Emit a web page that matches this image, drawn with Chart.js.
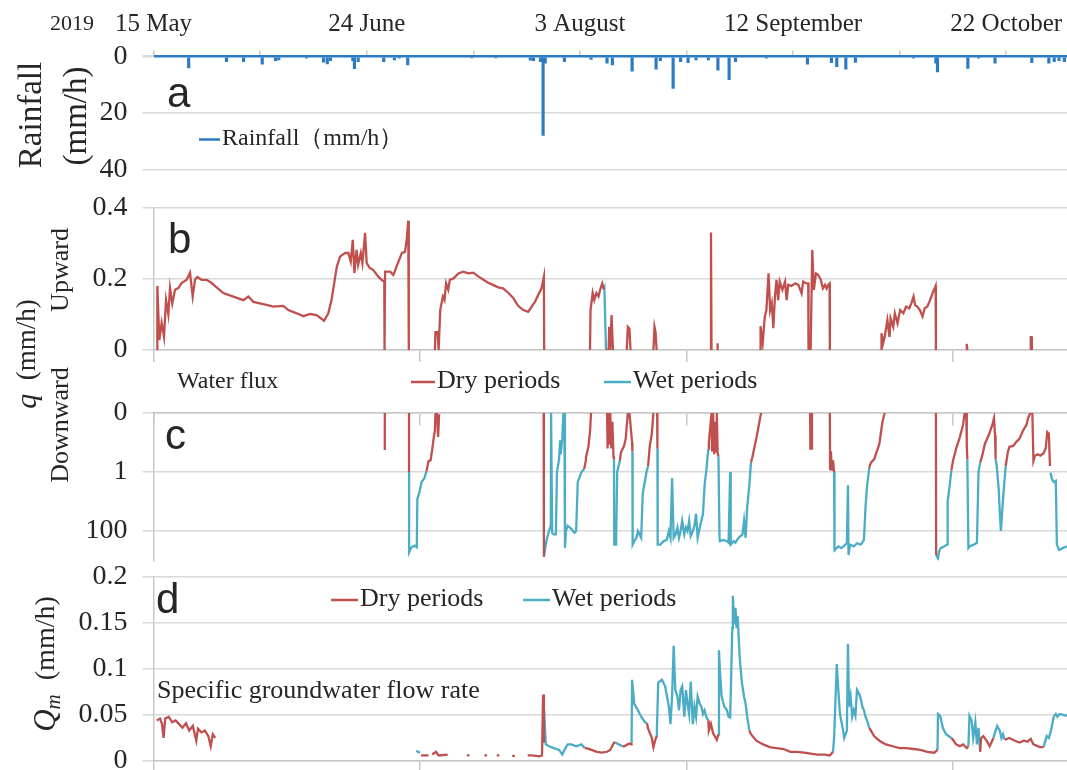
<!DOCTYPE html>
<html lang="en">
<head>
<meta charset="utf-8" />
<title>Rainfall, water flux and groundwater flow rate, 2019</title>
<style>
  body { margin: 0; background: #fff; }
  #wrap { position: relative; width: 1067px; height: 770px; overflow: hidden; background: #fff; }
  #wrap canvas { position: absolute; left: 0; top: 0; }
</style>
</head>
<body>
<div id="wrap">
  <canvas id="rain" width="1100" height="800"></canvas>
  <canvas id="up" width="1100" height="800"></canvas>
  <canvas id="down" width="1100" height="800"></canvas>
  <canvas id="qm" width="1100" height="800"></canvas>
</div>

<script src="https://cdn.jsdelivr.net/npm/chart.js"></script>
<script>
// x values are days counted from 15 May 2019
const X_MAX = 171.4;
const dateTickDays = [0, 20, 40, 60, 80, 100, 120, 140, 160];
const dateLabelDays = [0, 40, 80, 120, 160];
const dateLabels = ["15 May", "24 June", "3 August", "12 September", "22 October"];
const flowTickDays = [0, 50, 100, 150];

// hourly rainfall peaks (mm/h)
const rainDay = [6.6, 13.7, 16.9, 20.4, 22.9, 23.5, 28.7, 31.9, 32.6, 33.2, 37.4, 37.7, 38.4, 43.2, 45.2, 46.1, 47.7,
  59.7, 64.2, 70.7, 71.3, 72.6, 73.1, 73.5, 77.1, 82.1, 85.1, 86.1, 89.8, 94.3, 95.1, 97.5, 98.9, 100.3, 101.8,
  104.1, 105.9, 108.0, 109.2, 115.0, 122.7, 127.2, 128.2, 129.9, 131.7, 142.6, 146.8, 147.1, 152.8, 154.8, 157.9,
  164.8, 168.0, 169.0, 169.9, 170.9];
const rainMm = [4.0, 1.8, 1.8, 2.7, 1.5, 1.2, 0.6, 2.0, 2.6, 1.5, 1.5, 4.3, 1.8, 1.8, 1.2, 0.6, 3.0,
  0.5, 0.5, 1.3, 1.5, 1.8, 27.9, 2.4, 1.8, 1.0, 2.4, 3.0, 5.2, 4.5, 1.5, 11.3, 1.8, 2.2, 1.2,
  1.2, 4.8, 8.2, 1.8, 0.6, 2.7, 2.2, 3.6, 4.5, 2.1, 0.6, 2.4, 5.5, 4.2, 0.6, 2.4,
  2.2, 2.4, 1.8, 1.5, 1.8];

// upward water flux q (mm/h), segments of [day, value]
const upTicks = [0, 0.2, 0.4];
const upTickText = ["0", "0.2", "0.4"];
const upDry = [
  [[0.7, 0], [0.72, 0.18], [1.09, 0.028], [1.53, 0.076], [1.97, 0.037], [2.35, 0.14], [2.78, 0.10], [3.1, 0.174],
   [3.53, 0.13], [4.03, 0.169], [4.66, 0.174], [5.28, 0.188], [6.22, 0.197], [6.85, 0.217], [7.35, 0.15],
   [7.79, 0.197], [8.22, 0.205], [9.04, 0.197], [9.98, 0.197], [10.9, 0.188], [11.85, 0.176], [13.1, 0.16],
   [14.98, 0.15], [16.85, 0.14], [17.8, 0.15], [18.73, 0.135], [20.6, 0.129], [22.5, 0.122], [24.36, 0.124],
   [25.3, 0.112], [26.86, 0.103], [28.1, 0.095], [29.4, 0.101], [30.6, 0.098], [32.0, 0.082], [32.8, 0.103],
   [33.4, 0.14], [34.4, 0.234], [35.0, 0.262], [35.9, 0.272], [36.55, 0.273], [37.0, 0.248], [37.4, 0.309],
   [37.7, 0.216], [38.1, 0.281], [38.4, 0.239], [38.9, 0.272], [39.2, 0.244], [39.7, 0.329], [40.0, 0.244],
   [40.6, 0.23], [41.2, 0.225], [42.2, 0.206], [42.8, 0.197], [43.3, 0.192], [43.35, 0], [43.45, 0.22],
   [44.4, 0.22], [45.0, 0.211], [45.6, 0.234], [46.6, 0.272], [47.2, 0.276], [47.5, 0.309], [47.8, 0.363], [47.9, 0]],
  [[52.8, 0], [52.9, 0.05], [53.3, 0.05], [53.5, 0], [53.8, 0.112], [54.3, 0.15], [54.6, 0.14], [54.9, 0.187],
   [55.3, 0.169], [55.6, 0.197], [56.3, 0.201], [57.2, 0.215], [58.1, 0.22], [59.1, 0.215], [60.0, 0.217],
   [61.0, 0.206], [61.9, 0.197], [62.8, 0.189], [63.8, 0.182], [64.7, 0.176], [65.6, 0.173], [66.6, 0.16],
   [67.5, 0.146], [68.4, 0.124], [69.4, 0.112], [70.3, 0.107], [70.95, 0.122], [71.6, 0.136], [72.2, 0.155],
   [72.8, 0.173], [73.25, 0.206], [73.3, 0]],
  [[81.9, 0], [82.0, 0.112], [82.4, 0.16], [82.7, 0.14], [83.1, 0.16], [83.5, 0.15], [83.8, 0.169], [84.2, 0.187], [84.5, 0.17]],
  [[84.9, 0], [85.4, 0], [85.5, 0.065], [85.7, 0], [85.95, 0.098], [86.2, 0]],
  [[88.8, 0], [89.0, 0.065], [89.3, 0.06], [89.5, 0]],
  [[93.8, 0], [94.0, 0.065], [94.2, 0.05], [94.4, 0]],
  [[104.5, 0], [104.6, 0.33], [104.7, 0]],
  [[105.75, 0], [105.8, 0.019], [105.9, 0]],
  [[113.8, 0], [113.9, 0.067], [114.3, 0.019], [114.7, 0.094], [115.0, 0.112], [115.4, 0.215], [115.7, 0.112],
   [116.0, 0.131], [116.3, 0.061], [116.6, 0.15], [116.9, 0.197], [117.2, 0.14], [117.5, 0.192], [118.0, 0.169],
   [118.5, 0.192], [118.8, 0.14], [119.1, 0.183], [119.7, 0.18], [120.4, 0.187], [121.0, 0.183], [121.6, 0.159],
   [121.9, 0.192], [122.5, 0.187], [122.85, 0.187], [122.9, 0], [123.3, 0], [123.6, 0.281], [123.9, 0.169],
   [124.3, 0.215], [124.7, 0.211], [125.2, 0.197], [125.6, 0.173], [126.0, 0.183], [126.3, 0.173],
   [126.6, 0.183], [126.85, 0.187], [126.9, 0]],
  [[136.55, 0], [136.6, 0.047], [136.9, 0.019], [137.2, 0.037], [137.7, 0.084], [138.1, 0.037], [138.3, 0.089],
   [138.8, 0.065], [139.1, 0.103], [139.6, 0.075], [140.1, 0.112], [140.7, 0.103], [141.2, 0.122], [141.8, 0.117],
   [142.2, 0.131], [142.6, 0.15], [142.9, 0.126], [143.3, 0.122], [143.8, 0.112], [144.3, 0.094], [144.7, 0.117],
   [145.2, 0.122], [145.7, 0.14], [146.3, 0.164], [146.75, 0.18], [146.8, 0]],
  [[152.5, 0], [152.6, 0.017], [152.7, 0]],
  [[164.5, 0], [164.6, 0.036], [164.75, 0.036], [164.8, 0]]
];
const upWet = [
  [[84.5, 0.17], [84.6, 0.174], [84.9, 0]]
];

// downward water flux q (mm/h), log axis
const downTicks = [0.01, 1, 100];
const downTickText = ["0", "1", "100"];
const downDry = [
  [[43.4, 0.01], [43.4, 0.18]],
  [[47.95, 0.01], [47.95, 1.0]],
  [[51.2, 0.97], [51.6, 0.43], [52.0, 0.4], [52.3, 0.17], [52.6, 0.065], [52.8, 0.039], [52.9, 0.011],
   [53.2, 0.01], [53.4, 0.065], [53.6, 0.011]],
  [[73.2, 0.01], [73.25, 750]],
  [[80.8, 0.8], [81.1, 0.42], [81.2, 0.28], [81.6, 0.14], [81.9, 0.044], [82.1, 0.01]],
  [[85.1, 0.01], [85.2, 0.16], [85.3, 0.01], [85.5, 0.12], [85.7, 0.01], [85.9, 0.16], [86.1, 0.02], [86.3, 0.3], [86.4, 0.37]],
  [[87.5, 0.42], [87.7, 0.22], [88.3, 0.13], [88.6, 0.074], [89.0, 0.01]],
  [[89.3, 0.01], [89.8, 0.1], [89.85, 0.2]],
  [[92.8, 0.63], [93.1, 0.14], [93.5, 0.05], [93.8, 0.01]],
  [[94.5, 0.01], [94.55, 0.16]],
  [[104.1, 0.16], [104.2, 0.1], [104.4, 0.04], [104.7, 0.01], [104.8, 0.2], [105.0, 0.01], [105.2, 0.25],
   [105.4, 0.02], [105.6, 0.2], [105.7, 0.01], [105.85, 0.22], [106.0, 0.3]],
  [[112.1, 0.48], [112.4, 0.3], [112.7, 0.16], [113.1, 0.074], [113.4, 0.038], [113.7, 0.019], [114.0, 0.01]],
  [[123.2, 0.01], [123.25, 0.16], [123.5, 0.16], [123.55, 0.01]],
  [[126.9, 0.01], [126.95, 0.8], [127.1, 0.2], [127.3, 0.9], [127.5, 0.4], [127.7, 1.0]],
  [[134.3, 0.72], [134.6, 0.48], [135.2, 0.37], [135.9, 0.16], [136.2, 0.11], [136.5, 0.044], [136.8, 0.019], [137.2, 0.01]],
  [[146.8, 0.01], [146.85, 650]],
  [[149.7, 0.9], [150.0, 0.42], [150.6, 0.16], [151.3, 0.065], [151.9, 0.025], [152.2, 0.01]],
  [[152.5, 0.01], [152.6, 0.13], [152.7, 0.37]],
  [[155.1, 0.48], [155.5, 0.28], [156.0, 0.11], [156.7, 0.057], [157.4, 0.025], [157.7, 0.015], [157.9, 0.057], [158.0, 0.37]],
  [[159.9, 0.63], [160.3, 0.21], [160.6, 0.14], [161.3, 0.13], [161.9, 0.095], [162.5, 0.074], [163.2, 0.038],
   [163.8, 0.025], [164.1, 0.015], [164.5, 0.01], [164.9, 0.01], [165.1, 0.42], [165.4, 0.28], [165.9, 0.25],
   [166.4, 0.28], [167.0, 0.23], [167.4, 0.16], [167.7, 0.044], [168.0, 0.05], [168.2, 0.63]]
];
const downWet = [
  [[47.95, 1.0], [47.96, 535], [48.4, 357], [49.0, 314], [49.4, 357], [49.5, 8.3], [49.9, 4.8], [50.3, 2.2],
   [50.8, 1.66], [51.2, 0.97]],
  [[73.25, 750], [73.7, 222], [74.2, 100], [74.55, 66], [74.6, 0.01], [74.7, 0.01], [74.8, 115], [75.1, 131],
   [75.5, 131], [75.7, 1.0], [76.1, 0.37], [76.3, 0.085], [76.4, 0.25], [76.7, 0.074], [76.9, 0.01], [77.1, 0.01],
   [77.2, 380], [77.4, 100], [77.7, 66], [78.4, 85], [79.0, 115], [79.3, 100], [79.6, 2.2], [80.0, 1.4],
   [80.3, 1.0], [80.8, 0.8]],
  [[86.4, 0.37], [86.45, 290], [86.8, 290], [87.0, 1.0], [87.5, 0.42]],
  [[89.85, 0.2], [89.9, 290], [90.2, 222], [90.6, 170], [90.9, 100], [91.2, 131], [91.5, 170], [91.8, 5.3],
   [92.5, 1.0], [92.8, 0.63]],
  [[94.55, 0.16], [94.6, 290], [95.1, 290], [95.7, 222], [96.3, 200], [96.7, 100], [97.0, 170], [97.3, 1.6],
   [97.6, 170], [97.95, 131], [98.3, 76], [98.6, 170], [98.9, 100], [99.2, 45], [99.6, 131], [99.9, 76],
   [100.2, 100], [100.5, 45], [100.8, 150], [101.2, 100], [101.5, 66], [101.8, 26], [102.1, 170], [102.5, 76],
   [102.8, 45], [103.1, 26], [103.4, 2.8], [103.7, 1.0], [104.1, 0.16]],
  [[106.0, 0.3], [106.2, 170], [106.3, 222], [106.9, 200], [107.6, 222], [107.9, 250], [108.2, 1.0], [108.3, 290],
   [108.9, 222], [109.2, 250], [109.5, 200], [109.8, 170], [110.5, 131], [110.8, 45], [111.1, 170], [111.4, 15],
   [111.8, 2.8], [112.1, 0.48]],
  [[127.7, 1.0], [127.75, 500], [127.8, 440], [128.5, 330], [129.1, 380], [129.8, 290], [130.1, 260], [130.3, 2.8],
   [130.4, 650], [130.7, 290], [131.4, 330], [132.0, 260], [132.7, 290], [133.3, 200], [133.6, 15], [133.9, 2.8],
   [134.3, 0.72]],
  [[146.85, 650], [147.2, 850], [147.4, 500], [147.7, 380], [148.4, 330], [148.9, 290], [149.0, 10], [149.4, 2.8], [149.7, 0.9]],
  [[152.7, 0.37], [152.9, 380], [153.2, 330], [153.9, 290], [154.5, 250], [154.8, 1.0], [155.1, 0.48]],
  [[158.0, 0.37], [158.2, 0.6], [158.6, 4], [158.8, 26], [159.0, 100], [159.3, 15], [159.6, 2.8], [159.9, 0.63]],
  [[168.3, 1.05], [168.6, 1.8], [168.97, 2.2], [169.3, 2.0], [169.5, 290], [169.9, 440], [170.6, 380], [171.4, 330]]
];

// specific groundwater flow rate Qm (mm/h)
const qmTicks = [0, 0.05, 0.1, 0.15, 0.2];
const qmTickText = ["0", "0.05", "0.1", "0.15", "0.2"];
const qmDry = [
  [[0.6, 0.044], [1.24, 0.046], [1.6, 0.04], [1.89, 0.025], [2.2, 0.046], [2.86, 0.048], [3.5, 0.042], [4.15, 0.044],
   [4.8, 0.040], [5.44, 0.036], [6.09, 0.041], [6.7, 0.033], [7.38, 0.038], [8.03, 0.022], [8.35, 0.035],
   [9.0, 0.031], [9.64, 0.033], [10.29, 0.027], [10.74, 0.016], [11.13, 0.029], [11.58, 0.025]],
  [[50.2, 0.006], [51.6, 0.006]],
  [[52.3, 0.007], [53.0, 0.01], [53.5, 0.006], [55.2, 0.007]],
  [[58.8, 0.006], [59.3, 0.006]],
  [[62.1, 0.006], [62.6, 0.006]],
  [[64.4, 0.006], [64.9, 0.006]],
  [[67.3, 0.006], [67.8, 0.005]],
  [[70.2, 0.006], [71.0, 0.006], [72.4, 0.005], [72.9, 0.006], [73.1, 0.072], [73.25, 0.02]],
  [[80.9, 0.014], [81.2, 0.014], [82.2, 0.012], [83.2, 0.010], [84.1, 0.009], [85.1, 0.010], [85.7, 0.012], [86.4, 0.02], [86.7, 0.02]],
  [[88.0, 0.016], [88.3, 0.016], [88.96, 0.018], [89.4, 0.019], [89.6, 0.018], [89.7, 0.02]],
  [[92.6, 0.041], [92.8, 0.035], [93.5, 0.025], [93.8, 0.015], [94.1, 0.022], [94.4, 0.027]],
  [[104.1, 0.044], [104.2, 0.033], [104.6, 0.04], [105.0, 0.03], [105.7, 0.023], [106.0, 0.029]],
  [[111.8, 0.033], [112.1, 0.029], [113.1, 0.022], [114.4, 0.018], [115.6, 0.015], [116.9, 0.014], [118.2, 0.013],
   [119.5, 0.010], [120.8, 0.010], [122.1, 0.009], [123.3, 0.008], [124.6, 0.007], [125.9, 0.007], [126.9, 0.006], [127.5, 0.010]],
  [[134.3, 0.036], [134.6, 0.033], [135.2, 0.027], [136.2, 0.022], [137.4, 0.018], [138.7, 0.016], [140.0, 0.014],
   [141.3, 0.014], [142.6, 0.013], [143.9, 0.012], [145.2, 0.010], [146.5, 0.009], [147.1, 0.012]],
  [[149.7, 0.025], [150.0, 0.023], [150.6, 0.018], [151.3, 0.016], [151.9, 0.018], [152.6, 0.014], [152.9, 0.016]],
  [[155.1, 0.010], [155.3, 0.025], [155.7, 0.027], [156.3, 0.022], [156.9, 0.016], [157.6, 0.025]],
  [[159.7, 0.023], [160.6, 0.025], [161.6, 0.022], [162.5, 0.020], [163.3, 0.022], [164.0, 0.021], [164.6, 0.024],
   [165.1, 0.018], [166.3, 0.015], [167.0, 0.015]]
];
const qmWet = [
  [[49.3, 0.011], [50.0, 0.009]],
  [[73.25, 0.02], [73.3, 0.055], [73.6, 0.018], [74.2, 0.016], [75.1, 0.014], [76.1, 0.012], [76.7, 0.007],
   [77.1, 0.012], [77.7, 0.018], [78.4, 0.018], [79.3, 0.016], [80.3, 0.018], [80.9, 0.014]],
  [[86.7, 0.02], [87.3, 0.018], [88.0, 0.016]],
  [[89.7, 0.02], [89.8, 0.088], [90.2, 0.062], [90.9, 0.055], [91.5, 0.048], [92.2, 0.042], [92.6, 0.041]],
  [[94.4, 0.027], [94.45, 0.033], [94.7, 0.085], [95.4, 0.088], [96.0, 0.081], [96.7, 0.059], [97.0, 0.040],
   [97.3, 0.07], [97.6, 0.125], [97.9, 0.077], [98.3, 0.07], [98.6, 0.055], [98.9, 0.077], [99.2, 0.081],
   [99.6, 0.048], [99.9, 0.077], [100.2, 0.062], [100.5, 0.051], [100.8, 0.086], [101.2, 0.040], [101.5, 0.059],
   [101.8, 0.048], [102.1, 0.07], [102.5, 0.062], [102.8, 0.059], [103.1, 0.051], [103.4, 0.055], [103.7, 0.048], [104.1, 0.044]],
  [[106.0, 0.029], [106.1, 0.12], [106.3, 0.096], [106.6, 0.07], [107.1, 0.059], [107.6, 0.055], [107.9, 0.048],
   [108.2, 0.047], [108.6, 0.144], [108.7, 0.179], [109.0, 0.148], [109.2, 0.166], [109.4, 0.144], [109.6, 0.157],
   [110.0, 0.111], [110.4, 0.085], [110.8, 0.07], [111.1, 0.062], [111.4, 0.048], [111.8, 0.033]],
  [[127.5, 0.010], [127.7, 0.025], [128.2, 0.105], [128.5, 0.077], [128.8, 0.051], [129.3, 0.036], [129.6, 0.025],
   [130.1, 0.033], [130.3, 0.127], [130.5, 0.059], [130.8, 0.07], [131.1, 0.048], [131.4, 0.055], [131.7, 0.049],
   [132.0, 0.077], [132.3, 0.074], [132.6, 0.07], [133.0, 0.059], [133.3, 0.055], [133.6, 0.048], [134.0, 0.042], [134.3, 0.036]],
  [[147.1, 0.012], [147.2, 0.051], [147.6, 0.049], [148.1, 0.036], [148.7, 0.029], [149.7, 0.025]],
  [[152.9, 0.016], [153.1, 0.049], [153.5, 0.044], [153.8, 0.025], [154.2, 0.042], [154.5, 0.018], [154.8, 0.036], [155.1, 0.010]],
  [[157.6, 0.025], [158.0, 0.033], [158.3, 0.038], [158.8, 0.033], [159.1, 0.025], [159.4, 0.029], [159.7, 0.023]],
  [[167.0, 0.015], [167.6, 0.027], [168.0, 0.025], [168.4, 0.033], [168.9, 0.048], [169.3, 0.051], [169.6, 0.048],
   [170.0, 0.051], [171.4, 0.049]]
];

const SERIF = "'Liberation Serif', 'Times New Roman', serif";
const SANS = "'Liberation Sans', Arial, sans-serif";
const INK = "#262626";
const RAIN = "#2a7bc3";
const DRY = "#c0504d";
const WET = "#4bacc6";
const GRID = "#d9d9d9";
const AXIS = "#c8c8c8";
const LEFT = 153.5;   // width of the y-axis band, same for every panel
const TICK_SIZE = 28;

Chart.defaults.font.family = SERIF;
Chart.defaults.color = INK;

// free text, rotated titles and legend keys drawn on top of a panel
function notes(items) {
  return {
    id: "notes",
    afterDraw(chart) {
      const ctx = chart.ctx;
      for (const it of items) {
        ctx.save();
        if (it.key) {
          ctx.strokeStyle = it.key;
          ctx.lineWidth = 2.5;
          ctx.beginPath();
          ctx.moveTo(it.x, it.y);
          ctx.lineTo(it.x2, it.y);
          ctx.stroke();
        } else {
          ctx.translate(it.x, it.y);
          if (it.up) ctx.rotate(-Math.PI / 2);
          ctx.fillStyle = INK;
          ctx.textAlign = "left";
          ctx.textBaseline = it.base || "middle";
          const parts = it.parts || [{ text: it.text, font: it.font }];
          let total = 0;
          parts.forEach(p => { ctx.font = p.font; total += ctx.measureText(p.text).width; });
          let cx = it.align === "center" ? -total / 2 : 0;
          parts.forEach(p => {
            ctx.font = p.font;
            ctx.fillText(p.text, cx, p.shift || 0);
            cx += ctx.measureText(p.text).width;
          });
        }
        ctx.restore();
      }
    }
  };
}

function points(segs) {
  const out = [];
  segs.forEach(s => {
    s.forEach(p => out.push({ x: p[0], y: p[1] }));
    out.push({ x: s[s.length - 1][0], y: null });
  });
  return out;
}

function flowLine(segs, color) {
  return { type: "line", data: points(segs), borderColor: color, borderWidth: 2.3,
           pointRadius: 0, spanGaps: false, tension: 0 };
}

function tickLabels(vals, text) {
  return v => { const i = vals.indexOf(v); return i < 0 ? "" : text[i]; };
}

function yAxis(extra) {
  return Object.assign({
    afterFit: s => { s.width = LEFT; },
    grid: { color: GRID, lineWidth: 1.5, tickLength: 11 },
    border: { color: AXIS, width: 1.5 },
    ticks: { padding: 15, font: { size: TICK_SIZE }, color: INK, autoSkip: false }
  }, extra);
}

function flowX(extra) {
  return Object.assign({
    type: "linear", min: 0, max: X_MAX, offset: false,
    afterBuildTicks: s => { s.ticks = flowTickDays.map(v => ({ value: v })); },
    ticks: { display: false },
    grid: { drawOnChartArea: false, tickLength: 12, color: AXIS, lineWidth: 1.5 },
    border: { color: AXIS, width: 1.5 }
  }, extra);
}

function panel(id, datasets, scales, padding, items) {
  return new Chart(document.getElementById(id), {
    type: "line",
    data: { datasets },
    options: {
      responsive: false,
      animation: false,
      devicePixelRatio: 1,
      layout: { padding },
      plugins: { legend: { display: false }, tooltip: { enabled: false } },
      scales
    },
    plugins: [notes(items)]
  });
}

const f = (size, style) => (style ? style + " " : "") + size + "px " + SERIF;

// a: rainfall
panel("rain",
  [{
    type: "bar",
    data: rainDay.map((d, i) => ({ x: d, y: rainMm[i] })),
    backgroundColor: RAIN,
    barThickness: 2.5,
    borderWidth: 0
  }],
  {
    x: {
      type: "linear", position: "top", min: 0, max: X_MAX, offset: false,
      afterBuildTicks: s => { s.ticks = dateTickDays.map(v => ({ value: v })); },
      afterFit: s => { s.height = 56.5; },
      ticks: { autoSkip: false, maxRotation: 0, padding: 11, font: { size: 25 }, color: INK,
               callback: tickLabels(dateLabelDays, dateLabels) },
      grid: { drawOnChartArea: false, tickLength: 6, color: AXIS, lineWidth: 1.5, offset: false },
      border: { display: false }
    },
    y: yAxis({
      reverse: true, min: 0, max: 40,
      afterBuildTicks: s => { s.ticks = [0, 20, 40].map(v => ({ value: v })); },
      grid: {
        color: c => (c.tick && c.tick.value === 0 ? RAIN : GRID),
        lineWidth: c => (c.tick && c.tick.value === 0 ? 2.5 : 1.5),
        tickColor: GRID, tickLength: 11
      },
      border: { display: false }
    })
  },
  { top: 0, bottom: 630.5, left: 0, right: 33 },
  [
    { text: "2019", x: 72, y: 24, font: f(22), align: "center" },
    { text: "Rainfall", x: 32, y: 115, up: true, font: f(33), align: "center" },
    { text: "(mm/h)", x: 77, y: 116, up: true, font: f(33), align: "center" },
    { text: "a", x: 167, y: 107, base: "alphabetic", font: "42px " + SANS },
    { key: RAIN, x: 199, x2: 220, y: 139.5 },
    { text: "Rainfall（mm/h）", x: 222, y: 139, font: f(24) }
  ]);

// b: upward flux
panel("up",
  [flowLine(upDry, DRY), flowLine(upWet, WET)],
  {
    x: flowX({ position: "bottom", afterFit: s => { s.height = 20; } }),
    y: yAxis({
      min: 0, max: 0.4,
      afterBuildTicks: s => { s.ticks = upTicks.map(v => ({ value: v })); },
      ticks: { padding: 15, font: { size: TICK_SIZE }, color: INK, callback: tickLabels(upTicks, upTickText) }
    })
  },
  { top: 207.5, bottom: 430, left: 0, right: 33 },
  [
    { text: "b", x: 168, y: 253, base: "alphabetic", font: "42px " + SANS },
    { text: "Upward", x: 61, y: 270, up: true, font: f(26), align: "center" },
    { x: 28, y: 354, up: true, align: "center",
      parts: [{ text: "q", font: f(30, "italic") }, { text: "  (mm/h)", font: f(27) }] }
  ]);

// c: downward flux, log axis drawn top-down
panel("down",
  [flowLine(downDry, DRY), flowLine(downWet, WET)],
  {
    x: flowX({ position: { y: 0.01 } }),
    y: yAxis({
      type: "logarithmic", reverse: true, min: 0.01, max: 1000,
      afterBuildTicks: s => { s.ticks = downTicks.map(v => ({ value: v })); },
      ticks: { padding: 15, font: { size: TICK_SIZE }, color: INK, callback: tickLabels(downTicks, downTickText) }
    })
  },
  { top: 413, bottom: 239.5, left: 0, right: 33 },
  [
    { text: "c", x: 165, y: 449, base: "alphabetic", font: "42px " + SANS },
    { text: "Downward", x: 61, y: 425, up: true, font: f(26), align: "center" },
    { text: "Water flux", x: 177, y: 382, font: f(24) },
    { key: DRY, x: 411, x2: 435, y: 382 },
    { text: "Dry periods", x: 437, y: 381, font: f(26) },
    { key: WET, x: 604, x2: 631, y: 382 },
    { text: "Wet periods", x: 633, y: 381, font: f(26) }
  ]);

// d: specific groundwater flow rate
panel("qm",
  [flowLine(qmDry, DRY), flowLine(qmWet, WET)],
  {
    x: flowX({ position: "bottom", afterFit: s => { s.height = 20; } }),
    y: yAxis({
      min: 0, max: 0.2,
      afterBuildTicks: s => { s.ticks = qmTicks.map(v => ({ value: v })); },
      ticks: { padding: 15, font: { size: TICK_SIZE }, color: INK, callback: tickLabels(qmTicks, qmTickText) }
    })
  },
  { top: 576.5, bottom: 19, left: 0, right: 33 },
  [
    { text: "d", x: 156, y: 613, base: "alphabetic", font: "42px " + SANS },
    { x: 47, y: 664, up: true, align: "center",
      parts: [{ text: "Q", font: f(31, "italic") }, { text: "m", font: f(21, "italic"), shift: 7 },
              { text: "  (mm/h)", font: f(28) }] },
    { key: DRY, x: 331, x2: 358, y: 600 },
    { text: "Dry periods", x: 360, y: 599, font: f(26) },
    { key: WET, x: 523, x2: 550, y: 600 },
    { text: "Wet periods", x: 552, y: 599, font: f(26) },
    { text: "Specific groundwater flow rate", x: 157, y: 691, font: f(26) }
  ]);
</script>
</body>
</html>
